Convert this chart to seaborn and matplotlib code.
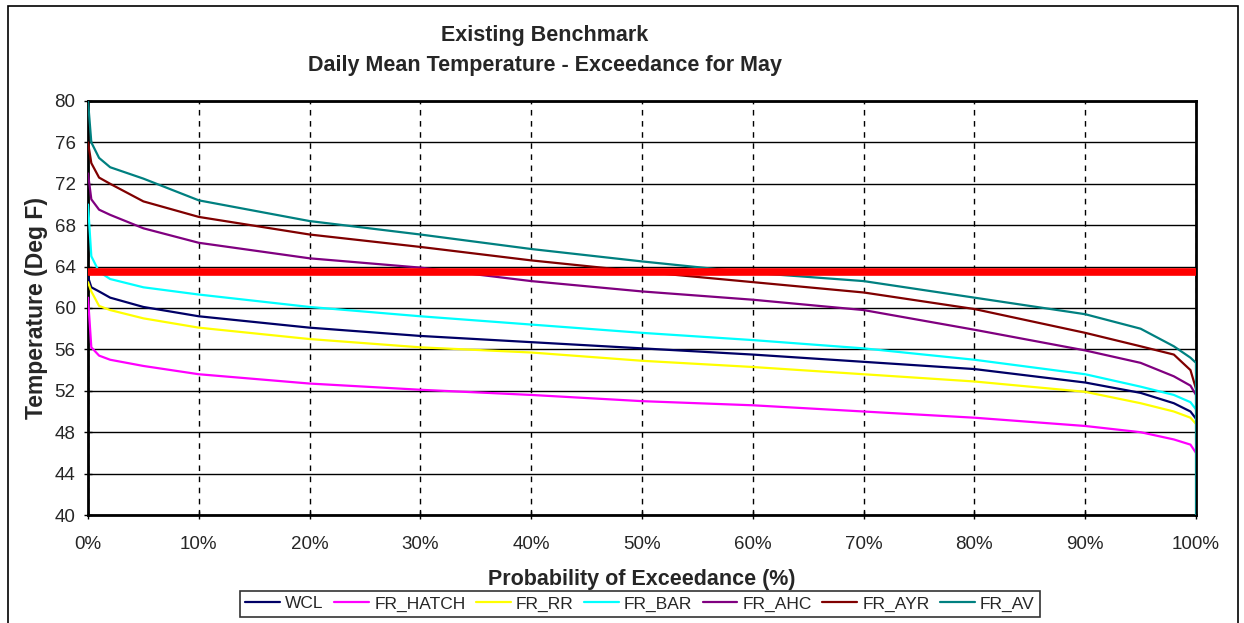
import seaborn as sns
import matplotlib.pyplot as plt
import pandas as pd
from matplotlib.patches import Rectangle
from matplotlib.ticker import PercentFormatter

pct = [0, 0.3, 1, 2, 5, 10, 20, 30, 40, 50, 60, 70, 80, 90, 95, 98, 99.5, 100]

wcl = [63.0, 62.0, 61.6, 61.0, 60.1, 59.2, 58.1, 57.3, 56.7, 56.1, 55.5, 54.8, 54.1, 52.8, 51.8, 50.8, 50.0, 49.3]
fr_hatch = [61.0, 56.2, 55.4, 55.0, 54.4, 53.6, 52.7, 52.1, 51.6, 51.0, 50.6, 50.0, 49.4, 48.6, 48.0, 47.3, 46.8, 46.0]
fr_rr = [62.5, 61.6, 60.2, 59.8, 59.0, 58.1, 57.0, 56.2, 55.7, 54.9, 54.3, 53.6, 52.9, 51.9, 50.8, 50.0, 49.4, 48.8]
fr_bar = [70.0, 65.0, 63.5, 62.8, 62.0, 61.3, 60.1, 59.2, 58.4, 57.6, 56.9, 56.1, 55.0, 53.6, 52.4, 51.6, 50.9, 50.2]
fr_ahc = [73.0, 70.5, 69.5, 69.0, 67.7, 66.3, 64.8, 63.9, 62.6, 61.6, 60.8, 59.8, 57.9, 55.9, 54.7, 53.4, 52.5, 51.6]
fr_ayr = [76.0, 74.0, 72.6, 72.0, 70.3, 68.8, 67.1, 65.9, 64.6, 63.5, 62.5, 61.5, 59.9, 57.6, 56.3, 55.5, 54.0, 52.2]
fr_av = [80.0, 76.0, 74.5, 73.6, 72.5, 70.4, 68.4, 67.1, 65.7, 64.5, 63.4, 62.6, 61.0, 59.4, 58.0, 56.3, 55.2, 54.7]
fr_av_last = 40.0  # curve drops to the axis at 100%

benchmark = 63.5

series = {"WCL": wcl, "FR_HATCH": fr_hatch, "FR_RR": fr_rr, "FR_BAR": fr_bar,
          "FR_AHC": fr_ahc, "FR_AYR": fr_ayr, "FR_AV": fr_av}
colors = {"WCL": "#000066", "FR_HATCH": "#FF00FF", "FR_RR": "#FFFF00", "FR_BAR": "#00FFFF",
          "FR_AHC": "#800080", "FR_AYR": "#800000", "FR_AV": "#008080"}

rows = []
for name, vals in series.items():
    for p, v in zip(pct, vals):
        rows.append((name, p, v))
rows.append(("FR_AV", 100, fr_av_last))
df = pd.DataFrame(rows, columns=["series", "pct", "temp"])

sns.set_style("white")
plt.rcParams["font.family"] = ["Liberation Sans", "DejaVu Sans"]

fig = plt.figure(figsize=(12.44, 6.23), dpi=100)
ax = fig.add_axes([88 / 1244, 1 - 515 / 623, (1196 - 88) / 1244, (515 - 101) / 623])

sns.lineplot(data=df, x="pct", y="temp", hue="series", palette=colors,
             estimator=None, sort=False, linewidth=1.6, ax=ax, zorder=3)

# benchmark line
ax.axhline(benchmark, color="#FF0000", linewidth=5.5, zorder=5)

ax.set_xlim(0, 100)
ax.set_ylim(40, 80)
ax.set_yticks(range(40, 81, 4))
ax.set_xticks(range(0, 101, 10))
ax.xaxis.set_major_formatter(PercentFormatter(100, decimals=0))
ax.grid(axis="y", color="black", linewidth=1, linestyle="-")
ax.grid(axis="x", color="black", linewidth=1, linestyle=(0, (4, 4)))
ax.set_axisbelow(True)
for s in ax.spines.values():
    s.set_color("black")
    s.set_linewidth(2)
ax.tick_params(axis="both", direction="inout", length=6, width=1, color="black",
               labelsize=13.5, left=True, bottom=True)
ax.tick_params(axis="x", pad=12)
ax.tick_params(axis="y", pad=6)

ax.set_xlabel("Probability of Exceedance (%)", fontsize=15.5, fontweight="bold", labelpad=12)
ax.set_ylabel("Temperature (Deg F)", fontsize=16.5, fontweight="bold", labelpad=5)

fig.text(545 / 1244, 1 - 35 / 623, "Existing Benchmark", ha="center", va="center",
         fontsize=15.5, fontweight="bold")
fig.text(545 / 1244, 1 - 66 / 623, "Daily Mean Temperature - Exceedance for May",
         ha="center", va="center", fontsize=15.5, fontweight="bold")

handles, labels = ax.get_legend_handles_labels()
ax.legend(handles, labels, ncol=7, loc="upper center",
          bbox_to_anchor=(640 / 1244, 1 - 591 / 623), bbox_transform=fig.transFigure,
          frameon=True, fancybox=False, edgecolor="black", fontsize=12.5,
          handlelength=2.0, handletextpad=0.3, columnspacing=0.6, borderpad=0.3,
          borderaxespad=0)
ax.get_legend().get_frame().set_linewidth(1.2)

# chart area border
fig.patches.append(Rectangle((8 / 1244, -0.1), (1238 - 8) / 1244, 1.1 - 6 / 623,
                             transform=fig.transFigure, fill=False,
                             edgecolor="black", linewidth=1.2))

fig.savefig("out.png", dpi=100)
